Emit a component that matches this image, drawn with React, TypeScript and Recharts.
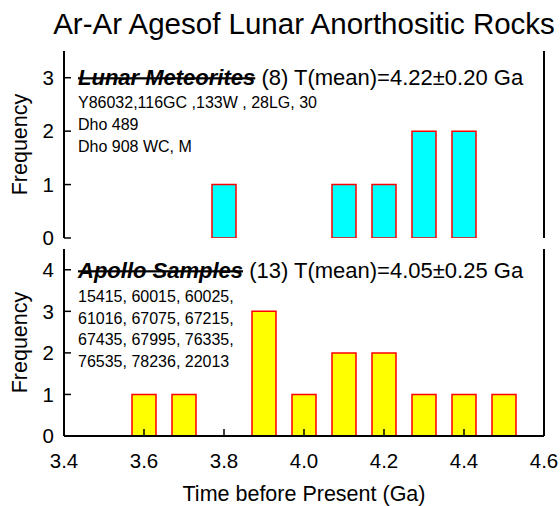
import { Bar, BarChart, XAxis, YAxis } from "recharts";

const ageTicks = [3.4, 3.6, 3.8, 4.0, 4.2, 4.4, 4.6];
const meteoriteAges = [3.8, 4.1, 4.2, 4.3, 4.4];
const meteoriteCounts = [1, 1, 1, 2, 2];
const apolloAges = [3.6, 3.7, 3.9, 4.0, 4.1, 4.2, 4.3, 4.4, 4.5];
const apolloCounts = [1, 1, 3, 1, 2, 2, 1, 1, 1];
const meteoriteFreqTicks = [0, 1, 2, 3];
const apolloFreqTicks = [0, 1, 2, 3, 4];
const meteoriteNames = ["Y86032,116GC ,133W , 28LG, 30", "Dho 489", "Dho 908 WC, M"];
const apolloNames = [
  "15415, 60015, 60025,",
  "61016, 67075, 67215,",
  "67435, 67995, 76335,",
  "76535, 78236, 22013",
];

const FONT = '"Liberation Sans", Arial, sans-serif';
const axisLine = { stroke: "#000", strokeWidth: 2 };
const tickLine = { stroke: "#000", strokeWidth: 1.5 };

type PanelProps = {
  ages: number[];
  counts: number[];
  fill: string;
  yMax: number;
  yTicks: number[];
  showX: boolean;
  height: number;
  top: number;
  marginTop: number;
  marginBottom: number;
};

function Panel({ ages, counts, fill, yMax, yTicks, showX, height, top, marginTop, marginBottom }: PanelProps) {
  const data = ages.map((a, i) => ({ age: a, n: counts[i] }));
  return (
    <div style={{ position: "absolute", left: 0, top }}>
      <BarChart
        width={560}
        height={height}
        data={data}
        margin={{ top: marginTop, right: 0, bottom: marginBottom, left: 0 }}
        style={{ fontFamily: FONT }}
      >
        <XAxis
          xAxisId="b"
          dataKey="age"
          type="number"
          domain={[3.4, 4.6]}
          ticks={ageTicks}
          allowDataOverflow
          height={showX ? 70 : 0}
          tick={showX ? { fill: "#000", fontSize: 20.5 } : false}
          tickFormatter={(v: number) => v.toFixed(1)}
          tickSize={-7}
          tickMargin={24}
          axisLine={axisLine}
          tickLine={tickLine}
        />
        <XAxis
          xAxisId="t"
          orientation="top"
          dataKey="age"
          type="number"
          domain={[3.4, 4.6]}
          ticks={ageTicks}
          allowDataOverflow
          height={0}
          tick={false}
          tickSize={-7}
          axisLine={axisLine}
          tickLine={tickLine}
        />
        <YAxis
          yAxisId="l"
          type="number"
          domain={[0, yMax]}
          ticks={yTicks}
          allowDataOverflow
          width={64}
          tick={{ fill: "#000", fontSize: 20.5 }}
          tickSize={-7}
          tickMargin={17}
          axisLine={axisLine}
          tickLine={tickLine}
        />
        <YAxis
          yAxisId="r"
          orientation="right"
          type="number"
          domain={[0, yMax]}
          ticks={yTicks}
          allowDataOverflow
          width={16}
          tick={false}
          tickSize={-7}
          axisLine={axisLine}
          tickLine={tickLine}
        />
        <Bar
          xAxisId="b"
          yAxisId="l"
          dataKey="n"
          fill={fill}
          stroke="#ff0000"
          strokeWidth={1.5}
          barSize={24}
          isAnimationActive={false}
        />
      </BarChart>
    </div>
  );
}

export default function App() {
  return (
    <div
      style={{
        position: "absolute",
        left: 0,
        top: 0,
        width: 560,
        height: 506,
        background: "#fff",
        fontFamily: FONT,
      }}
    >
      <Panel
        ages={meteoriteAges}
        counts={meteoriteCounts}
        fill="#00ffff"
        yMax={3.5}
        yTicks={meteoriteFreqTicks}
        showX={false}
        height={250}
        top={0}
        marginTop={51}
        marginBottom={12}
      />
      <Panel
        ages={apolloAges}
        counts={apolloCounts}
        fill="#ffff00"
        yMax={4.5}
        yTicks={apolloFreqTicks}
        showX
        height={266}
        top={240}
        marginTop={9}
        marginBottom={0}
      />
      <svg
        width={560}
        height={506}
        style={{ position: "absolute", left: 0, top: 0, pointerEvents: "none", fontFamily: FONT }}
      >
        <text x={304} y={34} textAnchor="middle" fontSize={29.5} fill="#000">
          Ar-Ar Agesof Lunar Anorthositic Rocks
        </text>

        <text x={78} y={77} dominantBaseline="central" fontSize={22} fill="#000">
          <tspan fontWeight="bold" fontStyle="italic" textDecoration="line-through">
            Lunar Meteorites
          </tspan>
          <tspan> (8) T(mean)=4.22±0.20 Ga</tspan>
        </text>
        {meteoriteNames.map((s, i) => (
          <text key={s} x={78} y={102 + i * 22} dominantBaseline="central" fontSize={16} fill="#000">
            {s}
          </text>
        ))}

        <text x={78} y={270} dominantBaseline="central" fontSize={22} fill="#000">
          <tspan fontWeight="bold" fontStyle="italic" textDecoration="line-through">
            Apollo Samples
          </tspan>
          <tspan> (13) T(mean)=4.05±0.25 Ga</tspan>
        </text>
        {apolloNames.map((s, i) => (
          <text key={s} x={78} y={296.5 + i * 21.5} dominantBaseline="central" fontSize={16} fill="#000">
            {s}
          </text>
        ))}

        <text
          x={20}
          y={144.5}
          transform="rotate(-90 20 144.5)"
          textAnchor="middle"
          dominantBaseline="central"
          fontSize={21.5}
          fill="#000"
        >
          Frequency
        </text>
        <text
          x={20}
          y={342.5}
          transform="rotate(-90 20 342.5)"
          textAnchor="middle"
          dominantBaseline="central"
          fontSize={21.5}
          fill="#000"
        >
          Frequency
        </text>
        <text x={304} y={494} textAnchor="middle" dominantBaseline="central" fontSize={21.5} fill="#000">
          Time before Present (Ga)
        </text>
      </svg>
    </div>
  );
}
